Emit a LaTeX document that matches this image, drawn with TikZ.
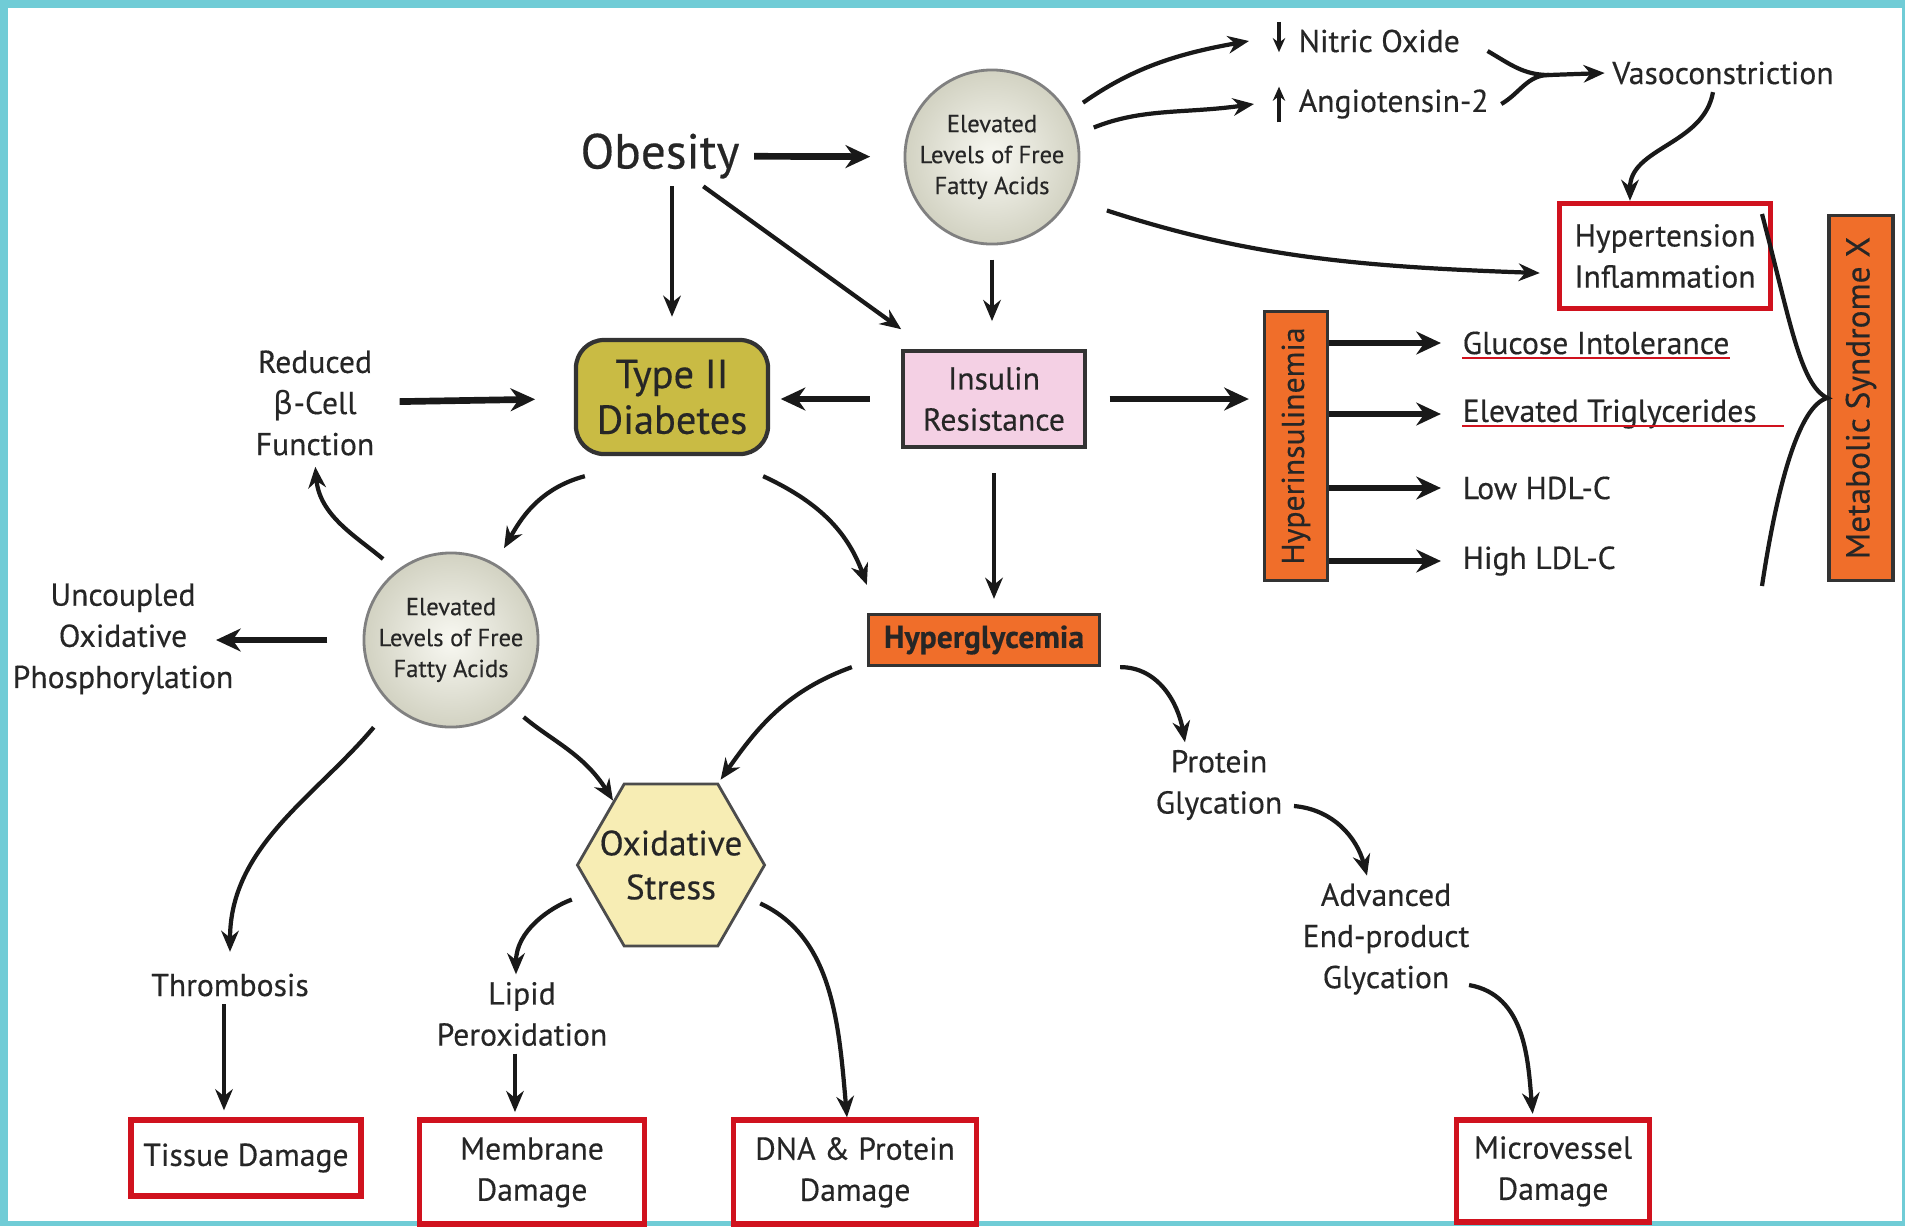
\documentclass[tikz,border=0pt]{standalone}
\usepackage{fontspec}
\setmainfont{PT Sans}[FakeBold=0.35]
\newfontfamily\grkfont{DejaVu Sans}
\usepackage{graphicx}
\usepackage{tikz}
\usetikzlibrary{arrows.meta,positioning,shapes.geometric}
\definecolor{framecyan}{RGB}{112,204,214}
\definecolor{inkgrey}{RGB}{38,38,38}
\definecolor{orng}{RGB}{240,110,42}
\definecolor{pinkbg}{RGB}{244,208,228}
\definecolor{olivebg}{RGB}{201,187,68}
\definecolor{hexbg}{RGB}{247,237,180}
\definecolor{redbox}{RGB}{208,18,30}
\definecolor{ballin}{RGB}{248,248,242}
\definecolor{ballout}{RGB}{210,210,194}

\begin{document}
\begin{tikzpicture}[x=0.01cm, y=-0.01cm,
    lbl/.style={font=\fontsize{9}{11.7}\selectfont, align=center,
                inner sep=2pt, text=inkgrey},
    ffa/.style={circle, draw=black!50, line width=0.8pt,
                inner color=ballin, outer color=ballout,
                minimum size=1.74cm, inner sep=0pt, align=center,
                font=\fontsize{7}{8.8}\selectfont, text=inkgrey},
    obox/.style={draw=black!80, fill=orng, line width=0.9pt,
                 inner sep=0pt, text=inkgrey,
                 font=\fontsize{9}{11}\selectfont},
    rbox/.style={draw=redbox, line width=1.5pt, align=center,
                 inner sep=0pt, text=inkgrey,
                 font=\fontsize{9}{11.7}\selectfont},
    arr/.style={-{Stealth[length=6pt,width=5pt]}, line width=1.2pt,
                black!90},
    tarr/.style={-{Stealth[length=7pt,width=6.5pt]}, line width=1.9pt,
                 black!90},
    ul/.style={redbox, line width=0.6pt}
  ]
  \useasboundingbox (0,0) rectangle (1905,1226);
  \fill[framecyan] (0,0) rectangle (1905,1226);
  \fill[white] (8,8) rectangle (1902,1221);

  % top row
  \node[lbl, font=\fontsize{14}{16}\selectfont] (obes) at (660,156) {Obesity};
  \node[ffa] (ffa1) at (992,157) {Elevated\\Levels of Free\\Fatty Acids};
  \node[lbl, anchor=west] (no)  at (1291,41)  {Nitric Oxide};
  \node[lbl, anchor=west] (ang) at (1291,104) {Angiotensin-2};
  \node[lbl] (vaso) at (1723,73) {Vasoconstriction};
  \coordinate (mrg) at (1549,75);
  \node[rbox, minimum width=2.11cm, minimum height=1.05cm] (hyp)
       at (1665,256) {Hypertension\\Inflammation};

  % middle row
  \node[lbl, draw=black!80, fill=pinkbg, line width=1pt,
        minimum width=1.82cm, minimum height=0.96cm] (insr)
       at (994,399) {Insulin\\Resistance};
  \node[draw=black!80, fill=olivebg, rounded corners=8pt, line width=1.2pt,
        minimum width=1.92cm, minimum height=1.14cm, align=center,
        text=inkgrey, font=\fontsize{11.5}{13}\selectfont] (t2d)
       at (672,397) {Type II\\Diabetes};
  \node[lbl] (beta) at (315,403) {Reduced\\{\grkfont β}-Cell\\Function};
  \node[obox, minimum width=0.63cm, minimum height=2.69cm] (hins)
       at (1296,446) {\rotatebox{90}{Hyperinsulinemia}};
  \node[obox, minimum width=0.64cm, minimum height=3.65cm,
        font=\fontsize{9.5}{12}\selectfont] (msx)
       at (1861,398) {\rotatebox{90}{Metabolic Syndrome X}};
  \node[lbl, anchor=west] (gi)  at (1455,343) {Glucose Intolerance};
  \node[lbl, anchor=west] (tg)  at (1455,414) {Elevated Triglycerides};
  \node[lbl, anchor=west] (hdl) at (1455,488) {Low HDL-C};
  \node[lbl, anchor=west] (ldl) at (1455,561) {High LDL-C};
  \coordinate (bt) at (1762,214);
  \coordinate (bb) at (1762,586);

  % lower part
  \node[obox, minimum width=2.31cm, minimum height=0.51cm,
        font=\fontsize{9}{11}\selectfont\bfseries] (hgly)
       at (984,640) {Hyperglycemia};
  \node[ffa] (ffa2) at (451,640) {Elevated\\Levels of Free\\Fatty Acids};
  \node[lbl] (unc) at (123,639) {Uncoupled\\Oxidative\\Phosphorylation};
  \node[regular polygon, regular polygon sides=6, draw=black!70,
        fill=hexbg, line width=0.8pt, minimum size=1.87cm, inner sep=0pt,
        label={[lbl, font=\fontsize{10}{12.5}\selectfont]center:Oxidative\\Stress}] (os)
       at (671,865) {};
  \node[lbl] (pg)  at (1219,785) {Protein\\Glycation};
  \node[lbl] (aeg) at (1386,939) {Advanced\\End-product\\Glycation};
  \node[lbl] (thr) at (230,985)  {Thrombosis};
  \node[lbl] (lip) at (522,1014) {Lipid\\Peroxidation};
  \node[rbox, minimum width=2.30cm, minimum height=0.76cm] (tis)
       at (246,1158) {Tissue Damage};
  \node[rbox, minimum width=2.25cm, minimum height=1.04cm, text depth=0.06cm] (mem)
       at (532,1172) {Membrane\\Damage};
  \node[rbox, minimum width=2.43cm, minimum height=1.04cm, text depth=0.06cm] (dna)
       at (855,1172) {DNA \& Protein\\Damage};
  \node[rbox, minimum width=1.93cm, minimum height=1.02cm, text depth=0.06cm] (mvd)
       at (1553,1171) {Microvessel\\Damage};

  % connectors, top
  \draw[tarr, shorten <=2pt, shorten >=9.5pt] (obes) -- (ffa1);
  \draw[arr, shorten >=6pt] (obes.south -| t2d.north) -- (t2d.north);
  \draw[arr] (obes.-35) -- ([yshift=0.2cm]insr.north west);
  \draw[arr, shorten <=5pt] (ffa1.30) to[out=35,in=190]
       ([xshift=-0.42cm]no.west);
  \draw[arr, shorten <=5pt] (ffa1.15) to[out=22,in=188]
       ([xshift=-0.37cm]ang.west);
  \draw[-{Stealth[length=4pt,width=3.5pt]}, line width=1pt, black!90]
       ([xshift=-0.12cm]no.north west) -- ([xshift=-0.12cm,yshift=0.08cm]no.south west);
  \draw[-{Stealth[length=4pt,width=3.5pt]}, line width=1pt, black!90]
       ([xshift=-0.12cm,yshift=0.04cm]ang.south west) -- ([xshift=-0.12cm,yshift=-0.05cm]ang.north west);
  \draw[line width=1.2pt, black!90] ([xshift=0.2cm,yshift=-0.1cm]no.east)
       to[out=-30,in=180] (mrg);
  \draw[line width=1.2pt, black!90] ([xshift=0.05cm]ang.east)
       to[out=30,in=180] (mrg);
  \draw[arr] (mrg) -- (vaso.west);
  \draw[arr] ([xshift=-0.1cm]vaso.south) to[out=-100,in=90]
       ([xshift=-0.35cm]hyp.north);
  \draw[arr, shorten <=11pt] (ffa1.-28) to[out=-18,in=178]
       ([xshift=-0.17cm,yshift=-0.17cm]hyp.west);
  \draw[arr, shorten <=4pt, shorten >=8pt] (ffa1.south) -- (ffa1.south |- insr.north);

  % connectors, middle
  \draw[tarr, shorten <=9pt, shorten >=3pt] (insr.west) -- (insr.west -| t2d.east);
  \draw[tarr, shorten <=5pt, shorten >=11pt] (beta) -- (t2d);
  \draw[tarr, shorten <=6.5pt, shorten >=4pt] (insr.east) -- (insr.east -| hins.west);
  \foreach \n in {gi,tg,hdl,ldl}
    \draw[tarr, shorten >=4pt] (hins.east |- \n) -- (\n.west);
  \draw[ul] ([xshift=2pt,yshift=-0.04cm]gi.base west) -- ([xshift=-2pt,yshift=-0.04cm]gi.base east);
  \draw[ul] ([xshift=2pt,yshift=-0.04cm]tg.base west) -- ([xshift=0.2cm,yshift=-0.04cm]tg.base east);
  \draw[line width=1.2pt, black!90] (bt) .. controls (1790,320) and (1800,385) .. (msx.west)
       .. controls (1800,405) and (1778,480) .. (bb);

  % connectors, lower
  \draw[arr, shorten >=5pt] ([xshift=0.11cm,yshift=-0.2cm]t2d.south west)
       to[out=195,in=60] (ffa2.60);
  \draw[arr] ([xshift=-0.07cm,yshift=-0.2cm]t2d.south east)
       to[out=-25,in=110] ([yshift=0.28cm]hgly.north west);
  \draw[arr, shorten <=7pt, shorten >=4pt] (insr.south) -- (insr.south |- hgly.north);
  \draw[arr, shorten <=5pt, shorten >=1pt] (ffa2.128) to[out=140,in=-85] (beta.south);
  \draw[tarr, shorten <=10pt] (ffa2.west) -- ([xshift=-0.25cm]ffa2.west -| unc.east);
  \draw[arr, shorten <=5pt] (ffa2.-48) to[out=-40,in=122] (os.132);
  \draw[arr, shorten <=8pt, shorten >=4pt] (ffa2.-132) to[out=-130,in=90] (thr.north);
  \draw[arr, shorten >=1pt] ([xshift=-0.15cm]hgly.south west) to[out=200,in=55] (os.60);
  \draw[arr] ([xshift=0.19cm]hgly.south east) to[out=0,in=100]
       ([xshift=-0.34cm]pg.north);
  \draw[arr] ([yshift=-0.21cm,xshift=0.04cm]pg.east) to[out=-5,in=105]
       ([xshift=-0.19cm]aeg.north);
  \draw[arr, shorten >=1pt] ([xshift=-0.08cm,yshift=-0.46cm]aeg.east) to[out=-10,in=95]
       ([xshift=-0.2cm]mvd.north);
  \draw[arr, shorten >=2pt] ([xshift=-0.06cm]thr.south) -- ([xshift=-0.06cm]thr.south |- tis.north);
  \draw[arr, shorten <=6pt] (os.199) to[out=200,in=90] ([xshift=-0.06cm]lip.north);
  \draw[arr, shorten >=1.5pt] ([xshift=-0.07cm]lip.south) -- ([xshift=-0.07cm]lip.south |- mem.north);
  \draw[arr, shorten <=4pt] (os.-23) to[out=-25,in=95] ([xshift=-0.08cm]dna.north);
\end{tikzpicture}
\end{document}
